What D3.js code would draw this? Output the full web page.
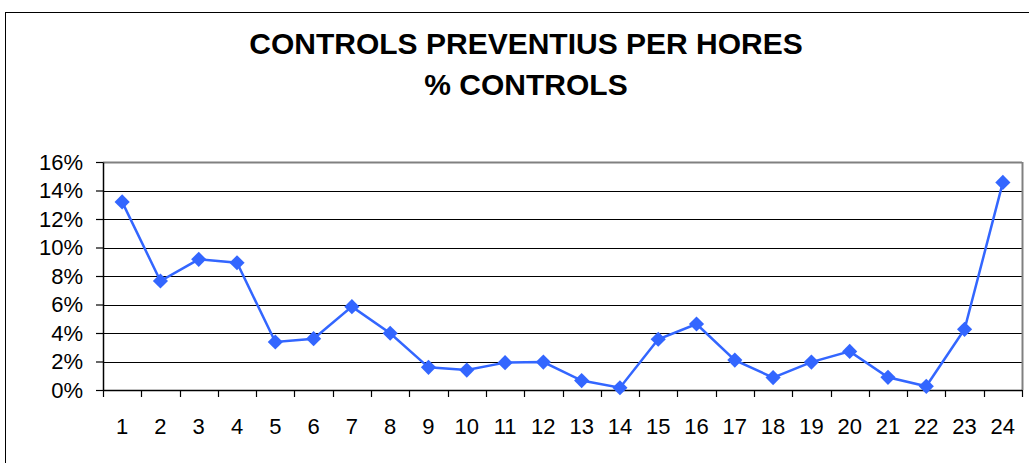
<!DOCTYPE html>
<html>
<head>
<meta charset="utf-8">
<script src="https://cdn.jsdelivr.net/npm/d3@7"></script>
<style>
  body { margin: 0; background: #fff; }
  svg { display: block; font-family: "Liberation Sans", Arial, sans-serif; }
</style>
</head>
<body>
<div id="chart"></div>
<script>
// chart data
var hours = d3.range(1, 25).map(String);
var pctControls = [13.2, 7.65, 9.17, 8.93, 3.37, 3.6, 5.85, 3.98, 1.59, 1.4, 1.92, 1.96,
                   0.66, 0.16, 3.56, 4.63, 2.1, 0.87, 1.96, 2.71, 0.89, 0.26, 4.26, 14.57];
var yTicks = [0, 2, 4, 6, 8, 10, 12, 14, 16];
var titleLines = ["CONTROLS PREVENTIUS PER HORES", "% CONTROLS"];

var svgWidth = 1029;
var svgHeight = 463;

var svg = d3.select("#chart")
  .append("svg")
    .attr("width", svgWidth)
    .attr("height", svgHeight);

// outer chart frame
svg.append("rect")
    .attr("x", 5.5)
    .attr("y", 12.5)
    .attr("width", 1040)
    .attr("height", 500)
    .attr("fill", "none")
    .attr("stroke", "#000")
    .attr("stroke-width", 1);

// title
svg.selectAll(".title").data(titleLines)
  .enter().append("text")
    .attr("class", "title")
    .attr("x", 526)
    .attr("y", (d, i) => 54 + i * 41)
    .attr("text-anchor", "middle")
    .attr("font-size", 30)
    .attr("font-weight", "bold")
    .attr("fill", "#000")
    .text(d => d);

var margin = { top: 162, left: 103, right: 7, bottom: 73 };
var width = svgWidth - margin.left - margin.right;
var height = svgHeight - margin.top - margin.bottom;

var g = svg.append("g")
    .attr("transform", `translate(${margin.left},${margin.top})`);

var xScale = d3.scaleBand()
    .domain(hours)
    .range([0, width]);

var yScale = d3.scaleLinear()
    .domain([0, 16])
    .range([height, 0]);

// gridlines
g.selectAll(".grid").data(yTicks.slice(1))
  .enter().append("line")
    .attr("class", "grid")
    .attr("x1", 0)
    .attr("x2", width)
    .attr("y1", d => Math.round(yScale(d)) + 0.5)
    .attr("y2", d => Math.round(yScale(d)) + 0.5)
    .attr("stroke", d => d === 16 ? "#808080" : "#000")
    .attr("stroke-width", d => d === 16 ? 2 : 1);

// right border of plot area
g.append("line")
    .attr("x1", width + 0.5)
    .attr("x2", width + 0.5)
    .attr("y1", 0)
    .attr("y2", height)
    .attr("stroke", "#808080")
    .attr("stroke-width", 2);

// left axis
var leftAxis = d3.axisLeft(yScale)
    .tickValues(yTicks)
    .tickFormat(d => d + "%")
    .tickSizeInner(7)
    .tickSizeOuter(0)
    .tickPadding(13);

var leftAxisG = g.append("g").call(leftAxis);
leftAxisG.select(".domain").attr("stroke", "#000").attr("stroke-width", 1.5);
leftAxisG.selectAll("line").attr("stroke", "#000").attr("stroke-width", 1.2);
leftAxisG.selectAll("text")
    .attr("font-size", 22)
    .attr("font-family", "Liberation Sans, Arial, sans-serif")
    .attr("fill", "#000");

// bottom axis: ticks at category boundaries
var bottomAxisG = g.append("g")
    .attr("transform", `translate(0,${height})`);

bottomAxisG.append("line")
    .attr("x1", 0)
    .attr("x2", width)
    .attr("y1", 0.5)
    .attr("y2", 0.5)
    .attr("stroke", "#000")
    .attr("stroke-width", 1.5);

bottomAxisG.selectAll(".xtick").data(d3.range(hours.length + 1))
  .enter().append("line")
    .attr("class", "xtick")
    .attr("x1", i => Math.round(i * xScale.step()) + 0.5)
    .attr("x2", i => Math.round(i * xScale.step()) + 0.5)
    .attr("y1", 0)
    .attr("y2", 7)
    .attr("stroke", "#000")
    .attr("stroke-width", 1.2);

bottomAxisG.selectAll(".xlabel").data(hours)
  .enter().append("text")
    .attr("class", "xlabel")
    .attr("x", d => xScale(d) + xScale.bandwidth() / 2)
    .attr("y", 44)
    .attr("text-anchor", "middle")
    .attr("font-size", 22)
    .attr("fill", "#000")
    .text(d => d);

// series line
var line = d3.line()
    .x((d, i) => xScale(hours[i]) + xScale.bandwidth() / 2)
    .y(d => yScale(d));

g.append("path")
    .datum(pctControls)
    .attr("fill", "none")
    .attr("stroke", "#3366FF")
    .attr("stroke-width", 2.5)
    .attr("d", line);

// diamond markers
g.selectAll(".marker").data(pctControls)
  .enter().append("path")
    .attr("class", "marker")
    .attr("transform", (d, i) => `translate(${xScale(hours[i]) + xScale.bandwidth() / 2},${yScale(d)}) rotate(45)`)
    .attr("d", d3.symbol().type(d3.symbolSquare).size(115))
    .attr("fill", "#3366FF");
</script>
</body>
</html>
